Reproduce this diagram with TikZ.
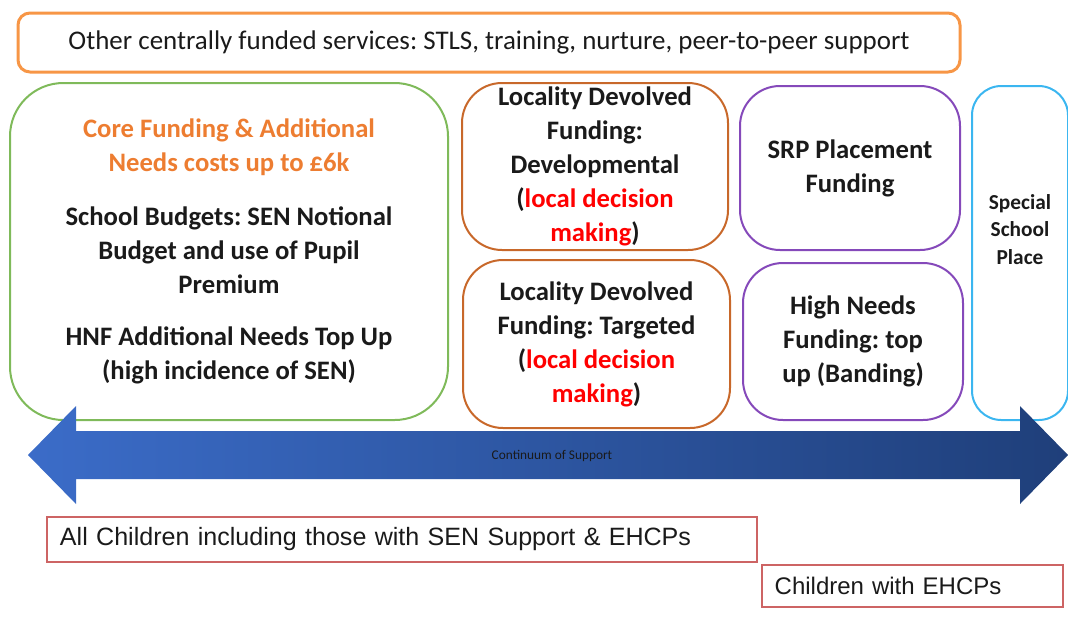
\documentclass[tikz,border=0pt]{standalone}
\usepackage{fontspec}
\setmainfont{Carlito}
\newfontfamily\arialfont{Liberation Sans}
\frenchspacing

\definecolor{topOrange}{HTML}{F79646}
\definecolor{coreOrange}{HTML}{ED7D31}
\definecolor{greenLine}{HTML}{7FBA5A}
\definecolor{brownLine}{HTML}{C8682A}
\definecolor{purpleLine}{HTML}{8549BA}
\definecolor{cyanLine}{HTML}{3BB6F0}
\definecolor{redLine}{HTML}{CD6464}
\definecolor{arrowLeft}{HTML}{3B6CC8}
\definecolor{arrowRight}{HTML}{1F3F7A}
\definecolor{textDark}{HTML}{1A1A1A}

\begin{document}
\begin{tikzpicture}[x=0.75pt, y=-0.75pt,
	fundbox/.style={draw, rounded corners=30pt, line width=1.5pt, align=center, inner sep=0pt, text=textDark, font=\bfseries\fontsize{20}{25.5}\selectfont},
	groupbox/.style={draw=redLine, line width=1.5pt, align=left, inner xsep=9.5pt, inner ysep=0pt, text=textDark, font=\arialfont\fontsize{18.5}{22}\selectfont}]
	\useasboundingbox (0,0) rectangle (1068,619);
				\node[draw=topOrange, rounded corners=9pt, line width=2.25pt, minimum width=706.5pt, minimum height=44.25pt, text=textDark, font=\fontsize{20.2}{24}\selectfont] (central)at(489, 42.5) {Other centrally funded services: STLS, training, nurture, peer-to-peer support};
				\node[fundbox, draw=greenLine, rounded corners=40pt, minimum width=328.5pt, minimum height=252.75pt] (core)at(229, 251.5) {\textcolor{coreOrange}{Core Funding \& Additional}\\\textcolor{coreOrange}{Needs costs up to £6k}\\[15pt]School Budgets: SEN Notional\\Budget and use of Pupil\\Premium\\[14pt]HNF Additional Needs Top Up\\(high incidence of SEN)};
				\node[fundbox, draw=brownLine, minimum width=199.5pt, minimum height=125.25pt] (develop)at(595, 166.5) {Locality Devolved\\Funding:\\Developmental\\(\textcolor{red}{local decision}\\\textcolor{red}{making})};
				\node[fundbox, draw=brownLine, minimum width=200.25pt, minimum height=126pt] (target)at(596.5, 344) {Locality Devolved\\Funding: Targeted\\(\textcolor{red}{local decision}\\\textcolor{red}{making})};
				\node[fundbox, draw=purpleLine, minimum width=165pt, minimum height=123pt] (srp)at(850, 168) {SRP Placement\\Funding};
				\node[fundbox, draw=purpleLine, minimum width=165pt, minimum height=117.75pt] (highneeds)at(853, 341.5) {High Needs\\Funding: top\\up (Banding)};
				\node[fundbox, draw=cyanLine, rounded corners=22pt, minimum width=72pt, minimum height=250.5pt] (special)at(1020, 253) {};
				\node[align=center, inner sep=0pt, text=textDark, font=\bfseries\fontsize{16}{20.6}\selectfont] (specialtxt)at(1020, 229.5) {Special\\School\\Place};
				\shade[left color=arrowLeft, right color=arrowRight] (28,455) -- (76,406) -- (76,431) -- (1020,431) -- (1020,406) -- (1068,455) -- (1020,504) -- (1020,479) -- (76,479) -- (76,504) -- cycle;
				\node[inner sep=0pt, text=textDark, font=\fontsize{10}{12}\selectfont] (continuum)at(552, 456) {Continuum of Support};
				\node[groupbox, text width=513pt, minimum height=33.75pt, font=\arialfont\fontsize{18.8}{22}\selectfont] (allchildren)at(402, 539.5) {All Children including those with SEN Support \& EHCPs};
				\node[groupbox, text width=206.75pt, minimum height=31.5pt, font=\arialfont\fontsize{18}{22}\selectfont] (ehcp)at(912.5, 586) {Children with EHCPs};
			\end{tikzpicture}
\end{document}
